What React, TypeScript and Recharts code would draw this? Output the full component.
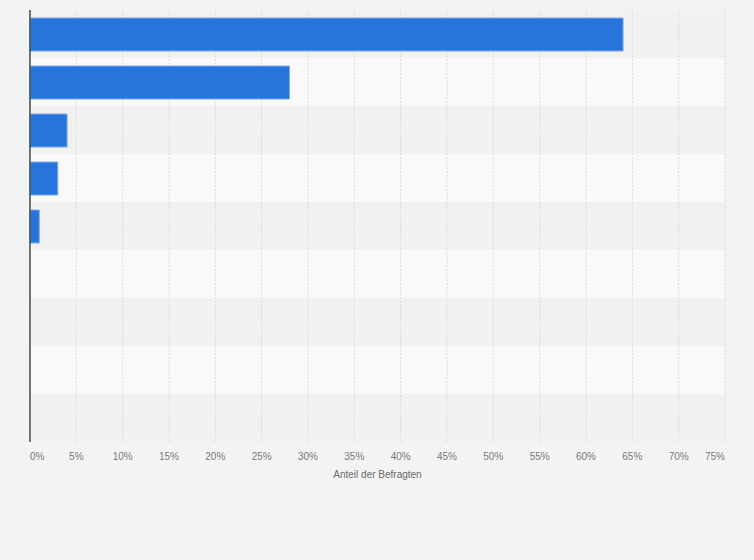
import React from 'react';
import {
  BarChart,
  Bar,
  XAxis,
  YAxis,
  CartesianGrid,
  ReferenceArea,
  ReferenceLine,
} from 'recharts';

const categories = [
  'Antwort 1',
  'Antwort 2',
  'Antwort 3',
  'Antwort 4',
  'Antwort 5',
  'Antwort 6',
  'Antwort 7',
  'Antwort 8',
  'Antwort 9',
];
const shares = [64, 28, 4, 3, 1, 0, 0, 0, 0];
const xTicks = [0, 5, 10, 15, 20, 25, 30, 35, 40, 45, 50, 55, 60, 65, 70, 75];
const xAxisTitle = 'Anteil der Befragten';
const stripeColors = ['#f1f1f1', '#f9f9f9'];

const data = categories.map((name, i) => ({ name, value: shares[i] }));

const FONT = '"Liberation Sans", Arial, Helvetica, sans-serif';

const XTick = (props: any) => {
  const { x, y, payload } = props;
  const v = payload.value;
  const first = v === xTicks[0];
  const last = v === xTicks[xTicks.length - 1];
  const anchor = first ? 'start' : last ? 'end' : 'middle';
  return (
    <text
      x={x}
      y={y}
      dy={10}
      textAnchor={anchor}
      fill="#7a7a7a"
      fontSize={10}
      fontFamily={FONT}
    >
      {`${v}%`}
    </text>
  );
};

export default function App() {
  return (
    <div
      style={{
        position: 'absolute',
        left: 0,
        top: 0,
        width: 754,
        height: 560,
        background: '#f3f3f3',
      }}
    >
      <BarChart
        width={754}
        height={560}
        data={data}
        layout="vertical"
        margin={{ top: 10, right: 29, bottom: 88, left: 29 }}
        barSize={33}
      >
        {categories.map((c, i) => (
          <ReferenceArea
            key={c}
            y1={c}
            y2={c}
            fill={stripeColors[i % 2]}
            fillOpacity={1}
            stroke="none"
            ifOverflow="visible"
            zIndex={-200}
          />
        ))}
        <CartesianGrid
          horizontal={false}
          stroke="#dadada"
          strokeDasharray="2 1.5"
        />
        <XAxis
          type="number"
          domain={[0, 75]}
          ticks={xTicks}
          interval={0}
          axisLine={false}
          tickLine={false}
          tickSize={6}
          height={30}
          tick={<XTick />}
          label={{
            value: xAxisTitle,
            position: 'insideBottom',
            offset: -6,
            fill: '#6a6a6a',
            fontSize: 10,
            fontFamily: FONT,
          }}
        />
        <YAxis
          type="category"
          dataKey="name"
          width={1}
          tick={false}
          tickLine={false}
          axisLine={false}
        />
        <Bar
          dataKey="value"
          fill="#2775db"
          stroke="#7eaaea"
          strokeWidth={1}
          isAnimationActive={false}
        />
        <ReferenceLine
          x={0}
          stroke="#4a4a4a"
          strokeWidth={1.5}
          ifOverflow="visible"
          zIndex={600}
        />
      </BarChart>
    </div>
  );
}
